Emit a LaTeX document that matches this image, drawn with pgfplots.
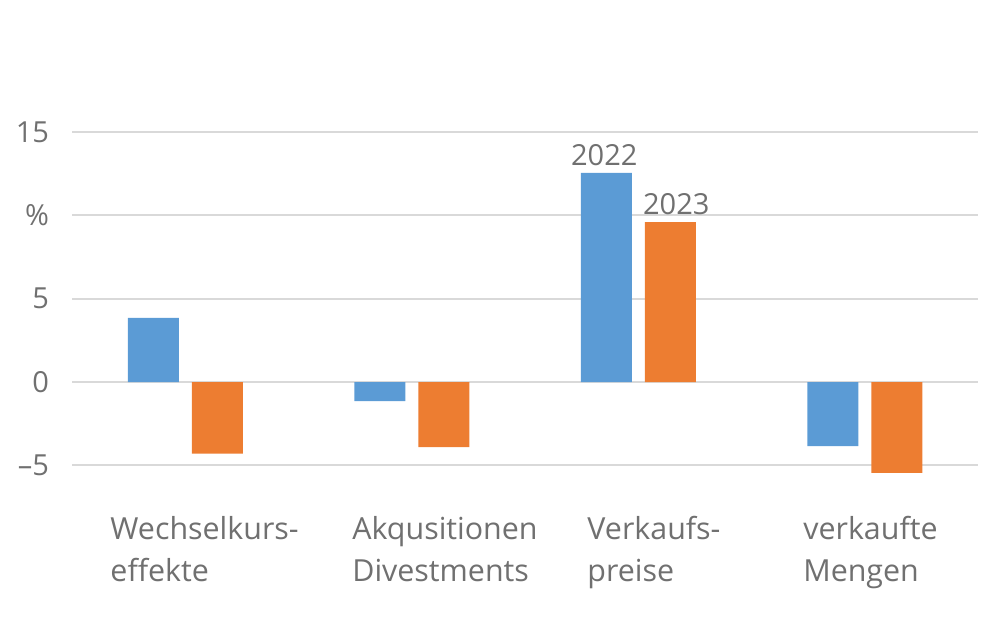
\documentclass[border=0pt]{standalone}
\usepackage{pgfplots}
\pgfplotsset{compat=1.18}
\usepackage{fontspec}
\setmainfont{Open Sans}
\definecolor{cblue}{HTML}{5B9BD5}
\definecolor{corange}{HTML}{ED7D31}
\definecolor{ctext}{HTML}{707070}
\definecolor{cgrid}{HTML}{D9D9D9}
\tikzset{xlabnode/.style={font=\fontsize{15.2}{21}\selectfont, text=ctext, anchor=north west, align=left, inner sep=0pt}}
\begin{document}
\begin{tikzpicture}
\begin{axis}[
  scale only axis,
  width=453pt, height=175pt,
  xmin=-0.5, xmax=3.5,
  ymin=-6, ymax=15,
  axis line style={draw=none},
  major tick length=0pt,
  ytick={-5,0,5,10,15},
  yticklabels={–5,0,5,\%,15},
  xtick=\empty,
  ymajorgrids,
  grid style={cgrid, line width=1pt},
  yticklabel style={font=\fontsize{14.5}{17}\selectfont, text=ctext, anchor=east, xshift=-8pt},
  ybar, bar width=25.5pt,
  clip=false,
]
\addplot[fill=cblue, draw=none, bar shift=-16pt] coordinates {(0,3.85) (1,-1.15) (2,12.55) (3,-3.85)};
\addplot[fill=corange, draw=none, bar shift=16pt] coordinates {(0,-4.3) (1,-3.9) (2,9.6) (3,-5.45)};
\node[font=\fontsize{14.5}{17}\selectfont, text=ctext, anchor=south] at ([xshift=-17pt]axis cs:2,12.55) {2022};
\node[font=\fontsize{14.5}{17}\selectfont, text=ctext, anchor=south] at ([xshift=19pt]axis cs:2,9.6) {2023};
\node[xlabnode] at (axis cs:-0.332,-8.05) {Wechselkurs-\\effekte};
\node[xlabnode] at (axis cs:0.736,-8.05) {Akqusitionen\\Divestments};
\node[xlabnode] at (axis cs:1.774,-8.05) {Verkaufs-\\preise};
\node[xlabnode] at (axis cs:2.727,-8.05) {verkaufte\\Mengen};
\end{axis}
\pgfresetboundingbox
\path[use as bounding box] (-36pt,-73pt) rectangle (464pt,241pt);
\end{tikzpicture}
\end{document}
